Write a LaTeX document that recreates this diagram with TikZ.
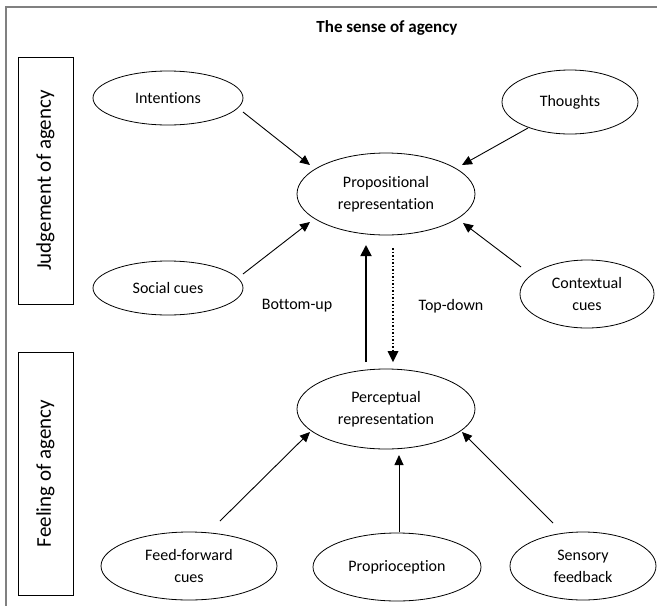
\documentclass[tikz,border=0pt]{standalone}
\usepackage{fontspec}
\setmainfont{Carlito}[Ligatures={NoCommon}]
\usetikzlibrary{arrows.meta,shapes.geometric}
\begin{document}
\begin{tikzpicture}[x=1pt,y=-1pt,
  el/.style={draw, ellipse, line width=0.8pt, inner sep=0pt, align=center,
             font=\fontsize{16}{22}\selectfont},
  sidebox/.style={draw, line width=0.8pt, rotate=90, inner sep=0pt,
                  font=\fontsize{21}{25}\selectfont},
  lbl/.style={font=\fontsize{16}{20}\selectfont},
  arr/.style={line width=0.9pt, -{Triangle[length=10pt,width=9pt]}},
  thickarr/.style={line width=1.8pt, -{Triangle[length=11pt,width=11pt]}},
  dotarr/.style={line width=1.5pt, dotted, -{Triangle[length=11pt,width=11pt,line width=0pt]}},
  frame/.style={draw=black!50, line width=2.5pt}]
\useasboundingbox (0,0) rectangle (657,606);
\draw[frame] (657,7) -- (6,7) -- (6,606);

\node[font=\fontsize{17}{20}\selectfont\bfseries] (title) at (387,28) {The sense of agency};

\node[sidebox, minimum width=247, minimum height=55] (judg) at (45.5,180.5) {Judgement of agency};
\node[sidebox, minimum width=243, minimum height=55] (feel) at (45.5,473.5) {Feeling of agency};

\node[el, minimum width=150, minimum height=54] (int) at (168,98) {Intentions};
\node[el, minimum width=136, minimum height=64] (th) at (570,102) {Thoughts};
\node[el, minimum width=178, minimum height=82] (prop) at (386,194) {Propositional\\representation};
\node[el, minimum width=150, minimum height=54] (soc) at (168,288) {Social cues};
\node[el, minimum width=134, minimum height=68] (ctx) at (587,294) {Contextual\\cues};
\node[el, minimum width=178, minimum height=80] (perc) at (386,409) {Perceptual\\representation};
\node[el, minimum width=176, minimum height=68] (ff) at (189,566) {Feed-forward\\cues};
\node[el, minimum width=168, minimum height=68] (pro) at (397,567) {Proprioception};
\node[el, minimum width=146, minimum height=68] (sen) at (583,566) {Sensory\\feedback};

\node[lbl] (bu) at (297,306) {Bottom-up};
\node[lbl] (td) at (451,306) {Top-down};

\draw[arr] ([shift={(75,14)}]int.center) -- ([shift={(-76,-29)}]prop.center);
\draw[arr] ([shift={(-42,26)}]th.center) -- ([shift={(76,-29)}]prop.center);
\draw[arr] ([shift={(75,-14)}]soc.center) -- ([shift={(-76,28)}]prop.center);
\draw[arr] ([shift={(-66,-27)}]ctx.center) -- ([shift={(77,29)}]prop.center);
\draw[thickarr] ([shift={(-20,-47)}]perc.center) -- ([shift={(-20,51)}]prop.center);
\draw[dotarr] ([shift={(7,54)}]prop.center) -- ([shift={(7,-47)}]perc.center);
\draw[arr] ([shift={(31,-45)}]ff.center) -- ([shift={(-76,23)}]perc.center);
\draw[arr] ([shift={(2,-35)}]pro.center) -- ([shift={(13,46)}]perc.center);
\draw[arr] ([shift={(-30,-43)}]sen.center) -- ([shift={(76,23)}]perc.center);
\end{tikzpicture}
\end{document}
